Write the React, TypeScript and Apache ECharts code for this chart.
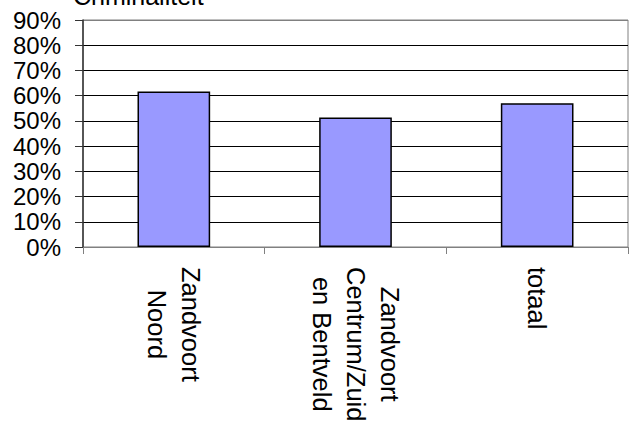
import React, { useEffect, useRef } from "react";
import * as echarts from "echarts";

const titleText = "Criminaliteit";
const categories = ["Zandvoort\nNoord", "Zandvoort\nCentrum/Zuid\nen Bentveld", "totaal"];
const values = [0.617, 0.513, 0.57];
const yMin = 0;
const yMax = 0.9;
const yStep = 0.1;

export default function App() {
  const ref = useRef<HTMLDivElement>(null);
  useEffect(() => {
    if (!ref.current) return;
    const chart = echarts.init(ref.current, null, { renderer: "svg" });
    const font = "'Liberation Sans', Arial, Helvetica, sans-serif";
    const splitColors = [];
    for (let i = 0; i < 9; i++) splitColors.push("#000000");
    splitColors.push("#808080");
    chart.setOption({
      animation: false,
      backgroundColor: "#ffffff",
      title: {
        text: titleText,
        left: 73,
        top: -17,
        padding: 0,
        textStyle: { fontFamily: font, fontSize: 25, fontWeight: "normal", color: "#000" },
      },
      grid: {
        left: 83,
        right: 2,
        top: 20,
        bottom: 174,
        show: true,
        borderColor: "#808080",
        borderWidth: 1,
        backgroundColor: "transparent",
        outerBoundsMode: "none",
        containLabel: false,
      },
      xAxis: {
        type: "category",
        data: categories,
        axisLine: { show: true, lineStyle: { color: "#808080", width: 1 } },
        axisTick: { show: true, length: 7, lineStyle: { color: "#808080" } },
        axisLabel: {
          rotate: -90,
          margin: 20,
          interval: 0,
          color: "#000",
          fontFamily: font,
          fontSize: 25.5,
          lineHeight: 34,
          formatter: (v: string) =>
            v
              .split("\n")
              .map((s) => "{c|" + s + "}")
              .join("\n"),
          rich: {
            c: { align: "center", fontFamily: font, fontSize: 25.5, lineHeight: 34, color: "#000" },
          },
        },
        splitLine: { show: false },
      },
      yAxis: {
        type: "value",
        min: yMin,
        max: yMax,
        interval: yStep,
        axisLine: { show: true, lineStyle: { color: "#333", width: 1.5 } },
        axisTick: { show: true, length: 8, lineStyle: { color: "#333" } },
        axisLabel: {
          margin: 22,
          color: "#000",
          fontFamily: font,
          fontSize: 24,
          formatter: (v: number) => Math.round(v * 100) + "%",
        },
        splitLine: { show: true, lineStyle: { color: splitColors, width: 1 } },
      },
      series: [
        {
          type: "bar",
          data: values,
          barWidth: "40%",
          itemStyle: { color: "#9999FF", borderColor: "#000", borderWidth: 1.5 },
        },
      ],
    });
    return () => chart.dispose();
  }, []);
  return <div ref={ref} style={{ width: 630, height: 421, position: "absolute", left: 0, top: 0 }} />;
}
